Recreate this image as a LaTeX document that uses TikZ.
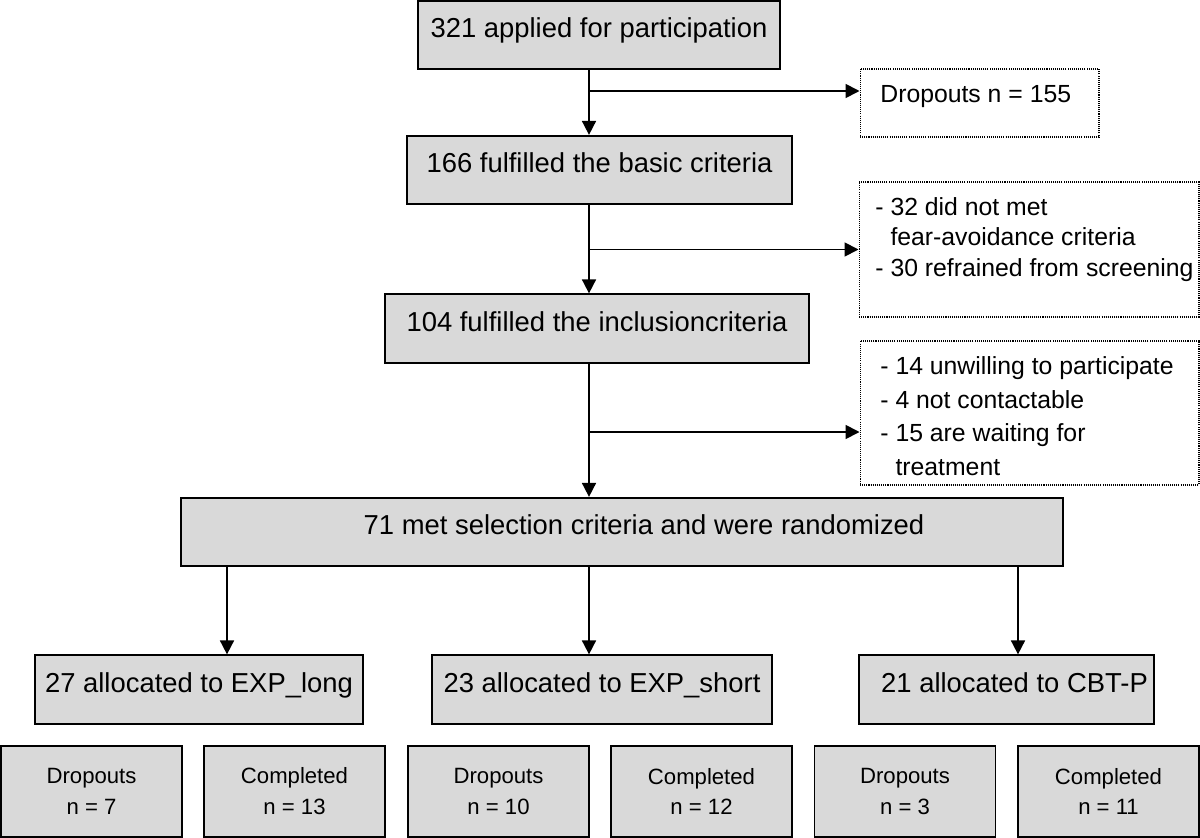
\documentclass[tikz,border=0pt]{standalone}
\usepackage{fontspec}
\setmainfont{Liberation Sans}
\usetikzlibrary{arrows.meta}
\definecolor{boxgray}{RGB}{217,217,217}

\begin{document}
\begin{tikzpicture}[x=0.02cm,y=-0.02cm,line width=1pt,
  gbox/.style={draw,fill=boxgray,inner sep=0pt},
  mainbox/.style={gbox,font=\fontsize{15.6pt}{18pt}\selectfont,text height=0.3cm,text depth=0.19cm,minimum height=1.37cm},
  endbox/.style={gbox,font=\fontsize{12.6pt}{17.6pt}\selectfont,align=center,minimum width=3.62cm,minimum height=1.82cm},
  dotbox/.style={draw,line width=0.6pt,dash pattern=on 0.6pt off 0.6pt,inner sep=0pt},
  listtext/.style={inner sep=0pt,anchor=base west},
  arr/.style={-{Triangle[width=0.28cm,length=0.28cm]}}]

\useasboundingbox (0,0) rectangle (1200,838);

\node [mainbox,minimum width=7.24cm] (applied) at (599,35) {321 applied for participation};
\node [mainbox,minimum width=7.7cm] (basic) at (599.5,170) {166 fulfilled the basic criteria};
\node [mainbox,minimum width=8.48cm] (incl) at (597,328.5) {104 fulfilled the inclusioncriteria};
\node [mainbox,minimum width=17.64cm] (rand) at (622,532) {\hspace*{0.88cm}71 met selection criteria and were randomized};

\node [mainbox,minimum width=6.56cm] (long) at (199,689.5) {27 allocated to EXP\_long};
\node [mainbox,minimum width=6.8cm] (short) at (602,689.5) {23 allocated to EXP\_short};
\node [mainbox,minimum width=5.9cm] (cbt) at (1006.5,689.5) {\hspace*{0.32cm}21 allocated to CBT-P};

\node [endbox] (longdrop) at (91.5,791.5) {Dropouts\\n = 7};
\node [endbox] (longdone) at (294.5,791.5) {Completed\\n = 13};
\node [endbox] (shortdrop) at (498.5,791.5) {Dropouts\\n = 10};
\node [endbox] (shortdone) at (701.5,791.5) {Completed\\n = 12};
\node [endbox] (cbtdrop) at (905,791.5) {Dropouts\\n = 3};
\node [endbox] (cbtdone) at (1108.5,791.5) {Completed\\n = 11};

% side boxes
\node [dotbox,minimum width=4.78cm,minimum height=1.36cm] (drop) at (979.5,103) {};
\node [listtext,font=\fontsize{14.1pt}{17pt}\selectfont] (droptxt) at ([shift={(0.4cm,-0.68cm)}]drop.north west) {Dropouts n = 155};

\node [dotbox,minimum width=6.8cm,minimum height=2.7cm] (excl) at (1029,249.5) {};
\node [listtext,font=\fontsize{14.1pt}{17.3pt}\selectfont] (excltxt) at ([shift={(0.32cm,-0.68cm)}]excl.north west)
  {\parbox[t]{6.6cm}{- 32 did not met\\\hphantom{- }fear-avoidance criteria\\- 30 refrained from screening}};

\node [dotbox,minimum width=6.78cm,minimum height=2.88cm] (decl) at (1029.5,413) {};
\node [listtext,font=\fontsize{14.1pt}{19.1pt}\selectfont] (decltxt) at ([shift={(0.4cm,-0.68cm)}]decl.north west)
  {\parbox[t]{6.3cm}{- 14 unwilling to participate\\- 4 not contactable\\- 15 are waiting for\\\hphantom{- }treatment}};

\coordinate (spine) at (589,0);
\coordinate (fork1) at (589,91);
\coordinate (fork3) at (589,432);
\coordinate (toLong) at (227,0);
\coordinate (toCbt) at (1018,0);

\draw [arr] (spine |- applied.south) -- (spine |- basic.north);
\draw [arr] (fork1) -- (fork1 -| drop.west);
\draw [arr] (spine |- basic.south) -- (spine |- incl.north);
\draw [arr] (spine |- excl.west) -- (excl.west);
\draw [arr] (spine |- incl.south) -- (spine |- rand.north);
\draw [arr] (fork3) -- (fork3 -| decl.west);

\draw [arr] (toLong |- rand.south) -- (toLong |- long.north);
\draw [arr] (spine |- rand.south) -- (spine |- short.north);
\draw [arr] (toCbt |- rand.south) -- (toCbt |- cbt.north);
\end{tikzpicture}
\end{document}
